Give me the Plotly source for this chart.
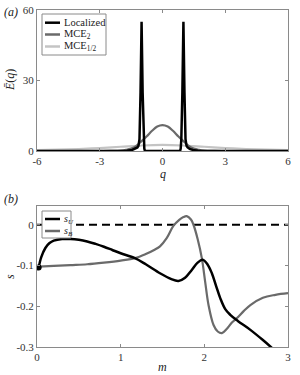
import plotly.graph_objects as go

# ---------------- data: panel (a) ----------------
q_loc = [-6, -3, -2.0, -1.7, -1.45, -1.3, -1.2, -1.15, -1.1, -1.05, -1.0, -0.95, -0.9, -0.87, -0.84,
         0.84, 0.87, 0.9, 0.95, 1.0, 1.05, 1.1, 1.15, 1.2, 1.3, 1.45, 1.7, 2.0, 3, 6]
E_loc = [0, 0, 0.04, 0.15, 0.45, 0.9, 1.5, 2.2, 5, 25, 55, 25, 5, 1, 0,
         0, 1, 5, 25, 55, 25, 5, 2.2, 1.5, 0.9, 0.45, 0.15, 0.04, 0, 0]

q_mce2 = [-6, -3, -2.5, -2.0, -1.75, -1.5, -1.25, -1.0, -0.75, -0.5, -0.25, 0,
          0.25, 0.5, 0.75, 1.0, 1.25, 1.5, 1.75, 2.0, 2.5, 3, 6]
E_mce2 = [0, 0, 0.03, 0.15, 0.45, 1.0, 2.2, 4.2, 6.3, 8.6, 10.4, 11.0,
          10.4, 8.6, 6.3, 4.2, 2.2, 1.0, 0.45, 0.15, 0.03, 0, 0]

q_mceh = [-6, -5, -4, -3, -2, -1, 0, 1, 2, 3, 4, 5, 6]
E_mceh = [0.35, 0.55, 0.85, 1.25, 1.8, 2.35, 2.6, 2.35, 1.8, 1.25, 0.85, 0.55, 0.35]

# ---------------- data: panel (b) ----------------
m_U = [0.02, 0.05, 0.1, 0.15, 0.2, 0.3, 0.4, 0.5, 0.6, 0.7, 0.8, 0.9, 1.0, 1.17, 1.3, 1.47,
       1.6, 1.69, 1.77, 1.85, 1.92, 1.98, 2.04, 2.09, 2.14, 2.19, 2.25, 2.31, 2.4, 2.55, 2.7, 2.85]
s_U = [-0.105, -0.08, -0.057, -0.045, -0.039, -0.035, -0.035, -0.037, -0.041, -0.047, -0.054,
       -0.062, -0.07, -0.082, -0.097, -0.119, -0.133, -0.138, -0.13, -0.111, -0.093, -0.086,
       -0.098, -0.119, -0.15, -0.18, -0.207, -0.221, -0.236, -0.258, -0.283, -0.31]

m_B = [0.02, 0.2, 0.4, 0.6, 0.8, 1.0, 1.17, 1.3, 1.4, 1.47, 1.55, 1.63, 1.7, 1.75, 1.79, 1.84,
       1.87, 1.92, 1.97, 2.01, 2.05, 2.11, 2.16, 2.21, 2.27, 2.33, 2.39, 2.47, 2.55, 2.7, 2.85, 3.0]
s_B = [-0.103, -0.101, -0.099, -0.097, -0.093, -0.088, -0.082, -0.072, -0.062, -0.053, -0.033,
       -0.003, 0.012, 0.019, 0.021, 0.013, 0.0, -0.035, -0.082, -0.14, -0.197, -0.246, -0.262,
       -0.266, -0.255, -0.24, -0.229, -0.212, -0.197, -0.179, -0.172, -0.168]

m_zero = [0, 3]
s_zero = [0, 0]

x_ticks_a = [-6, -3, 0, 3, 6]
x_labels_a = ["-6", "-3", "0", "3", "6"]
y_ticks_a = [0, 30, 60]
y_labels_a = ["0", "30", "60"]
x_ticks_b = [0, 1, 2, 3]
x_labels_b = ["0", "1", "2", "3"]
y_ticks_b = [0, -0.1, -0.2, -0.3]
y_labels_b = ["0", "-0.1", "-0.2", "-0.3"]

# ---------------- style ----------------
BLACK = "#000000"
DARK = "#6a6a6a"
LIGHT = "#c4c4c4"
AXC = "#8a8a8a"
FONT = "Liberation Serif"

W, H = 300, 375
ML, MR, MT, MB = 37, 12, 10, 28
PW, PH = W - ML - MR, H - MT - MB


def px(x):
    return (x - ML) / PW


def py(y):
    return (H - MB - y) / PH


fig = go.Figure()

fig.add_trace(go.Scatter(x=q_mceh, y=E_mceh, mode="lines", line=dict(color=LIGHT, width=2.2, shape="spline"),
                         xaxis="x", yaxis="y", showlegend=False))
fig.add_trace(go.Scatter(x=q_mce2, y=E_mce2, mode="lines", line=dict(color=DARK, width=2.2, shape="spline"),
                         xaxis="x", yaxis="y", showlegend=False))
fig.add_trace(go.Scatter(x=q_loc, y=E_loc, mode="lines", line=dict(color=BLACK, width=2.5),
                         xaxis="x", yaxis="y", showlegend=False))

fig.add_trace(go.Scatter(x=m_zero, y=s_zero, mode="lines", line=dict(color=BLACK, width=2, dash="8px,5px"),
                         xaxis="x2", yaxis="y2", showlegend=False))
fig.add_trace(go.Scatter(x=m_B, y=s_B, mode="lines", line=dict(color=DARK, width=2.2, shape="spline"),
                         xaxis="x2", yaxis="y2", showlegend=False))
fig.add_trace(go.Scatter(x=m_U, y=s_U, mode="lines", line=dict(color=BLACK, width=2.5, shape="spline"),
                         xaxis="x2", yaxis="y2", showlegend=False))
fig.add_trace(go.Scatter(x=m_U[:1], y=s_U[:1], mode="markers", marker=dict(color=BLACK, size=6),
                         xaxis="x2", yaxis="y2", showlegend=False))

ax_common = dict(showline=True, mirror="ticks", linecolor=AXC, linewidth=1, ticks="inside",
                 ticklen=3, tickcolor=AXC, showgrid=False, zeroline=False, tickmode="array",
                 automargin=False,
                 tickfont=dict(family=FONT, size=11, color="#333333"))

top_bot = py(151)
bot_top = py(206)

fig.update_layout(
    width=W, height=H, margin=dict(l=ML, r=MR, t=MT, b=MB),
    paper_bgcolor="white", plot_bgcolor="white",
    font=dict(family=FONT, size=11, color="#222222"),
    hovermode=False,
    xaxis=dict(domain=[0, 1], range=[-6, 6], tickvals=x_ticks_a, ticktext=x_labels_a, anchor="y", **ax_common),
    yaxis=dict(domain=[top_bot, 1], range=[0, 60], tickvals=y_ticks_a, ticktext=y_labels_a, anchor="x", **ax_common),
    xaxis2=dict(domain=[0, 1], range=[0, 3], tickvals=x_ticks_b, ticktext=x_labels_b, anchor="y2", **ax_common),
    yaxis2=dict(domain=[0, bot_top], range=[-0.3, 0.046], tickvals=y_ticks_b,
                ticktext=y_labels_b, anchor="x2", **ax_common),
    showlegend=False,
)

ann = []


def text(x, y, s, size=11, xanchor="center", angle=0, color="#222222"):
    ann.append(dict(x=px(x), y=py(y), xref="paper", yref="paper", text=s, showarrow=False,
                    xanchor=xanchor, yanchor="middle", textangle=angle,
                    font=dict(family=FONT, size=size, color=color)))


text(2, 12, "<i>(a)</i>", size=12, xanchor="left")
text(2, 199, "<i>(b)</i>", size=12, xanchor="left")
text(10, 80, "<i>Ē</i>(<i>q</i>)", size=12, angle=-90)
text(162.5, 174, "<i>q</i>", size=12)
text(10, 277, "<i>s</i>", size=12, angle=-90)
text(162.5, 367, "<i>m</i>", size=12)

shapes = []
# legend (a)
shapes.append(dict(type="rect", xref="paper", yref="paper", x0=px(42), x1=px(106), y0=py(55), y1=py(14),
                   line=dict(color=AXC, width=1), fillcolor="white", layer="above"))
leg_a = [("Localized", BLACK, 22.7), ("MCE<sub>2</sub>", DARK, 34.5), ("MCE<sub>1/2</sub>", LIGHT, 46.5)]
for lab, col, yy in leg_a:
    shapes.append(dict(type="line", xref="paper", yref="paper", x0=px(45), x1=px(60), y0=py(yy), y1=py(yy),
                       line=dict(color=col, width=2.5), layer="above"))
    text(62, yy, lab, size=10.5, xanchor="left")
# legend (b)
shapes.append(dict(type="rect", xref="paper", yref="paper", x0=px(42), x1=px(71), y0=py(238), y1=py(211),
                   line=dict(color=AXC, width=1), fillcolor="white", layer="above"))
leg_b = [("<i>s</i><sub><i>U</i></sub>", BLACK, 219), ("<i>s</i><sub><i>B</i></sub>", DARK, 231)]
for lab, col, yy in leg_b:
    shapes.append(dict(type="line", xref="paper", yref="paper", x0=px(45), x1=px(60), y0=py(yy), y1=py(yy),
                       line=dict(color=col, width=2.5), layer="above"))
    text(61.5, yy, lab, size=10, xanchor="left")

fig.update_layout(annotations=ann, shapes=shapes)
fig.write_html("out.html", config={"displayModeBar": False, "staticPlot": True},
               post_script="document.body.style.margin='0px';document.body.style.padding='0px';")
